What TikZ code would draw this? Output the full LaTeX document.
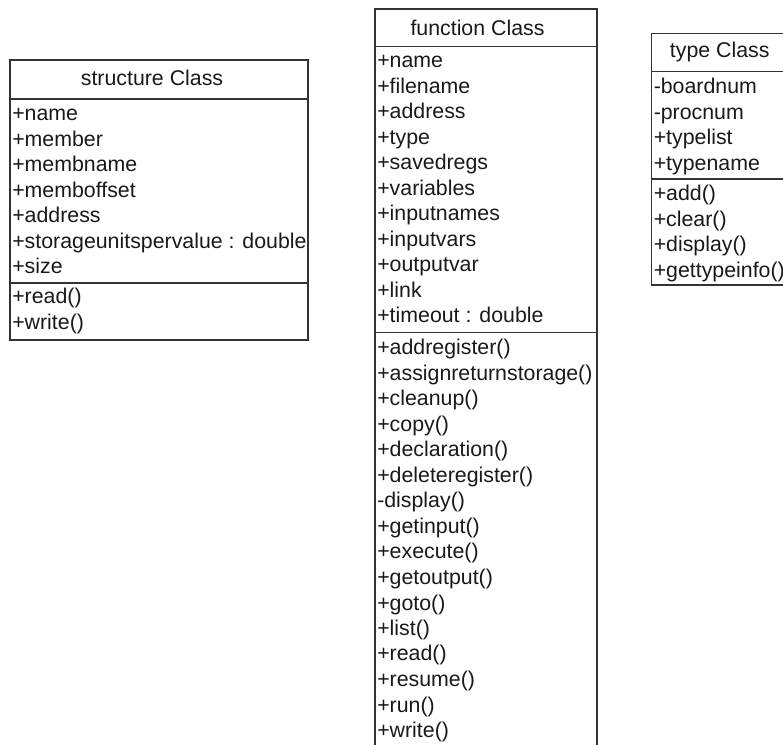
\documentclass[tikz,border=0pt]{standalone}
\usepackage{fontspec}
\setmainfont{Liberation Sans}
\begin{document}
\begin{tikzpicture}[x=0.75pt,y=-0.75pt,
  boxline/.style={draw=black!80, line width=1.1pt},
  row/.style={anchor=base west, inner sep=0pt, text=black!90, font=\fontsize{16}{19}\selectfont},
  head/.style={anchor=base, inner sep=0pt, text=black!90, font=\fontsize{16}{19}\selectfont}]
\useasboundingbox (0,0) rectangle (783,745);
\clip (0,0) rectangle (783,745);

% structure Class
\draw[boxline] (10,60) rectangle (308,340);
\draw[boxline] (10,99) -- (308,99);
\draw[boxline] (10,283) -- (308,283);
\node[head] (sh) at (152,86) {structure Class};
\foreach \t [count=\i] in {+name,+member,+membname,+memboffset,+address,+storageunitspervalue : double,+size}
  \node[row] (sa\i) at (12,{121+(\i-1)*25.5}) {\t};
\foreach \t [count=\i] in {+read(),+write()}
  \node[row] (sm\i) at (12,{304+(\i-1)*25.5}) {\t};

% function Class
\draw[boxline] (375,760) -- (375,9) -- (597,9) -- (597,760);
\draw[boxline] (375,46.7) -- (597,46.7);
\draw[boxline] (375,332.7) -- (597,332.7);
\node[head] (fh) at (477.5,35.7) {function Class};
\foreach \t [count=\i] in {+name,+filename,+address,+type,+savedregs,+variables,+inputnames,+inputvars,+outputvar,+link,+timeout : double}
  \node[row] (fa\i) at (377,{67.7+(\i-1)*25.5}) {\t};
\foreach \t [count=\i] in {+addregister(),+assignreturnstorage(),+cleanup(),+copy(),+declaration(),+deleteregister(),-display(),+getinput(),+execute(),+getoutput(),+goto(),+list(),+read(),+resume(),+run(),+write()}
  \node[row] (fm\i) at (377,{355+(\i-1)*25.5}) {\t};

% type Class
\draw[boxline] (651.7,33.3) rectangle (802,285);
\draw[boxline] (651.7,71.7) -- (802,71.7);
\draw[boxline] (651.7,179) -- (802,179);
\node[head] (th) at (719.7,58) {type Class};
\foreach \t [count=\i] in {-boardnum,-procnum,+typelist,+typename}
  \node[row] (ta\i) at (653.5,{94+(\i-1)*25.5}) {\t};
\foreach \t [count=\i] in {+add(),+clear(),+display(),+gettypeinfo()}
  \node[row] (tm\i) at (653.5,{201+(\i-1)*25.5}) {\t};
\end{tikzpicture}
\end{document}
